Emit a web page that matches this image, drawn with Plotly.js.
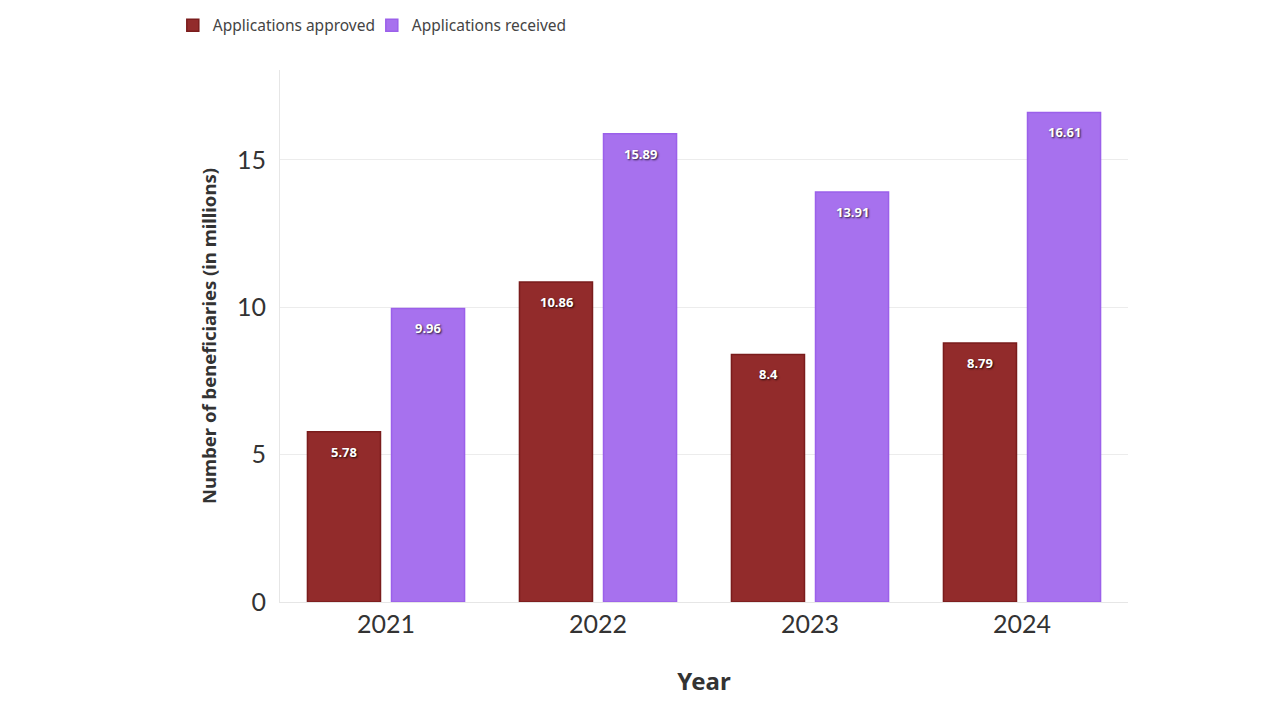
<!DOCTYPE html>
<html>
<head>
<meta charset="utf-8">
<script src="https://cdn.plot.ly/plotly-3.0.1.min.js"></script>
<style>html,body{margin:0;padding:0;background:#fff;}#chart{width:1280px;height:720px;}</style>
</head>
<body>
<div id="chart"></div>
<script>
var years = ['2021', '2022', '2023', '2024'];
var approved = [5.78, 10.86, 8.4, 8.79];
var received = [9.96, 15.89, 13.91, 16.61];
var seriesNames = ['Applications approved', 'Applications received'];
var yTicks = [0, 5, 10, 15];

var textFont = {family: '"Noto Sans", sans-serif', size: 13, color: '#ffffff', weight: 700, shadow: '1px 1px 2px rgba(0,0,0,0.8)'};

var traces = [
  {
    type: 'bar', name: seriesNames[0], x: years, y: approved,
    marker: {color: '#922b2b', line: {color: '#7a1c1c', width: 1.5}},
    hoverinfo: 'y'
  },
  {
    type: 'bar', name: seriesNames[1], x: years, y: received,
    marker: {color: '#a771ee', line: {color: '#9b60ea', width: 1.5}},
    hoverinfo: 'y'
  }
];

// value labels placed through the axes (category index), inside the top of each bar
var annotations = [];
[[approved, -42], [received, 42]].forEach(function (pair) {
  var vals = pair[0], dx = pair[1];
  years.forEach(function (yr, i) {
    annotations.push({
      x: i, y: vals[i], xref: 'x', yref: 'y', text: String(vals[i]),
      showarrow: false, xshift: dx, yshift: -20, font: textFont
    });
  });
});

var layout = {
  width: 1280, height: 720,
  margin: {l: 280, r: 152, t: 70, b: 118, autoexpand: false},
  paper_bgcolor: '#ffffff', plot_bgcolor: '#ffffff',
  font: {family: '"Noto Sans", Lato, sans-serif', color: '#333333'},
  barmode: 'group', bargap: 0.207, bargroupgap: 0.131,
  showlegend: true,
  annotations: annotations,
  legend: {orientation: 'h', xref: 'container', x: 0.135, xanchor: 'left', yref: 'container', y: 0.988, yanchor: 'top',
    font: {size: 15.5, color: '#444444', family: '"Noto Sans", sans-serif'}, itemwidth: 30, tracegroupgap: 0,
    entrywidth: 154, entrywidthmode: 'pixels'},
  xaxis: {
    type: 'category', categoryorder: 'array', categoryarray: years, range: [-0.5, years.length - 0.5],
    title: {text: 'Year', font: {size: 24, weight: 700, color: '#333333', family: '"Noto Sans", sans-serif'}, standoff: 36},
    tickfont: {size: 25, color: '#333333', family: 'Lato, sans-serif'},
    showline: true, linecolor: '#e6e6e6', linewidth: 1, ticks: '', showgrid: false
  },
  yaxis: {
    range: [0, 18.05],
    tickvals: yTicks, ticktext: yTicks.map(String),
    title: {text: 'Number of beneficiaries (in millions)', font: {size: 18.5, weight: 700, color: '#333333', family: '"Noto Sans", sans-serif'}, standoff: 15},
    tickfont: {size: 25, color: '#333333', family: 'Lato, sans-serif'},
    showline: true, linecolor: '#e6e6e6', linewidth: 1, ticks: '',
    showgrid: true, gridcolor: '#ececec', gridwidth: 1, zeroline: false, ticklabelstandoff: 8
  }
};

Plotly.newPlot('chart', traces, layout, {displayModeBar: false, responsive: false});
</script>
</body>
</html>
